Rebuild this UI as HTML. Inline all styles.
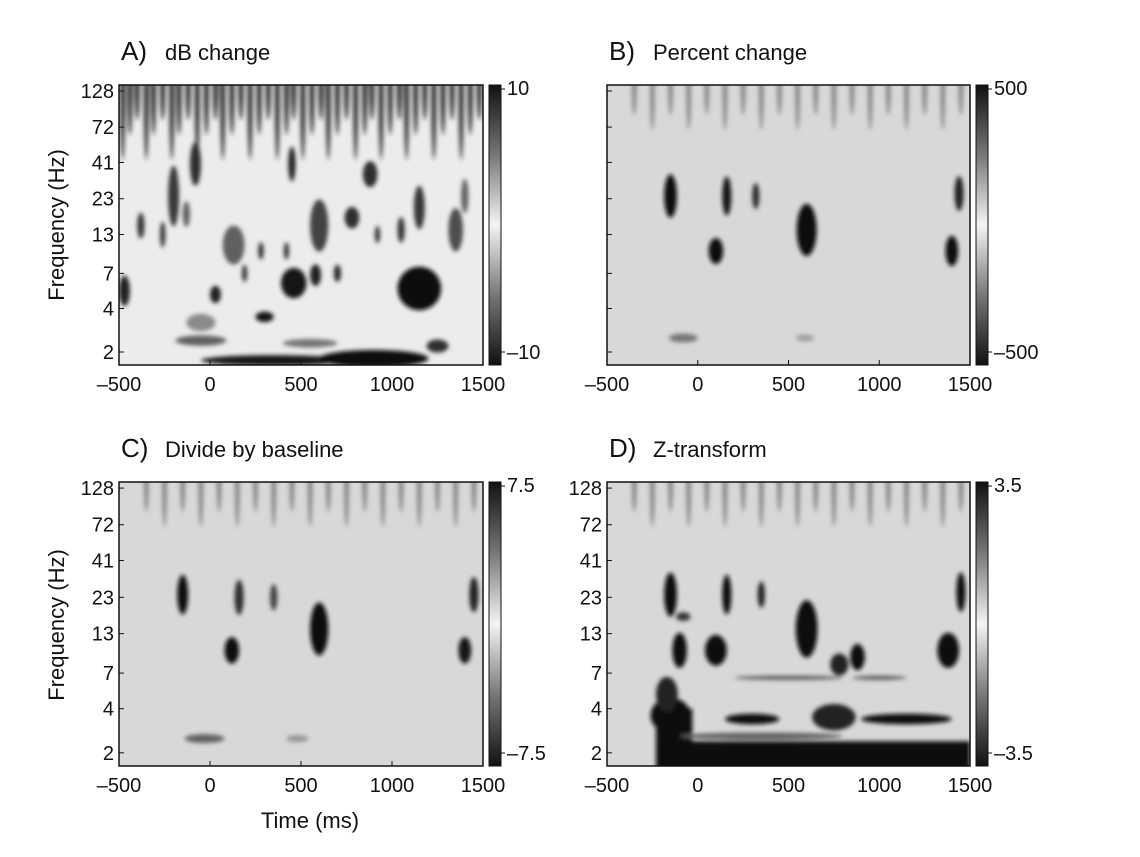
<!DOCTYPE html>
<html><head><meta charset="utf-8"><style>
body{margin:0;background:#fff;}
svg text{font-family:"Liberation Sans",sans-serif;fill:#111;}
</style></head><body>
<svg id="fig" width="1140" height="852" viewBox="0 0 1140 852" xmlns="http://www.w3.org/2000/svg">
<defs>
<filter id="blur" x="-20%" y="-20%" width="140%" height="140%"><feGaussianBlur stdDeviation="2"/></filter>
<linearGradient id="cbar" x1="0" y1="0" x2="0" y2="1">
<stop offset="0" stop-color="#111"/><stop offset="0.25" stop-color="#777"/><stop offset="0.5" stop-color="#f4f4f4"/><stop offset="0.75" stop-color="#777"/><stop offset="1" stop-color="#111"/>
</linearGradient>
</defs>
</svg>
<script>
// data: blobs [time ms, freq Hz, half-width ms, half-height octaves, darkness 0..1]
const xTicks=[-500,0,500,1000,1500];
const yTicks=[2,4,7,13,23,41,72,128];
const blobsA=[[-470,5.3,30,0.35,0.9],[30,5,30,0.2,0.9],[460,6,70,0.35,0.95],[580,6.8,30,0.25,0.9],[1150,5.5,120,0.5,1],[1250,2.2,60,0.15,0.85],[300,3.5,50,0.12,0.95],[350,1.75,400,0.12,0.95],[900,1.8,300,0.2,1],[-50,2.4,140,0.12,0.6],[-50,3.2,80,0.2,0.4],[550,2.3,150,0.1,0.5],[130,11,60,0.45,0.6],[600,15,50,0.6,0.75],[780,17,40,0.25,0.85],[1350,14,40,0.5,0.7],[1400,24,20,0.4,0.6],[-200,24,30,0.7,0.8],[-380,15,20,0.3,0.8],[-80,40,30,0.5,0.85],[880,34,40,0.3,0.85],[1150,20,30,0.5,0.8],[420,10,15,0.2,0.8],[280,10,15,0.2,0.85],[190,7,15,0.2,0.8],[700,7,20,0.2,0.85],[920,13,15,0.2,0.8],[-260,13,15,0.3,0.8],[-130,18,20,0.3,0.6],[450,40,20,0.4,0.9],[1050,14,20,0.3,0.8]];
const streaksA=[-480,-440,-400,-350,-310,-260,-210,-170,-120,-70,-20,30,70,120,170,220,270,320,370,420,460,510,560,610,650,700,750,800,850,890,940,990,1040,1080,1130,1180,1230,1280,1330,1380,1430,1480];
const blobsB=[[-150,24,35,0.5,1],[100,10,40,0.3,1],[160,24,25,0.45,0.95],[320,24,20,0.3,0.85],[600,14,55,0.6,1],[1440,25,25,0.4,0.9],[1400,10,35,0.35,1],[-80,2.5,80,0.1,0.5],[590,2.5,50,0.08,0.3]];
const blobsC=[[-150,24,30,0.45,1],[120,10,40,0.3,1],[160,23,25,0.4,0.85],[350,23,20,0.3,0.75],[600,14,50,0.6,1],[1450,24,25,0.4,0.9],[1400,10,35,0.3,0.95],[-30,2.5,110,0.1,0.6],[480,2.5,60,0.08,0.35]];
const blobsD=[[-150,24,35,0.5,1],[-100,10,40,0.4,1],[-80,17,40,0.1,0.8],[100,10,60,0.35,1],[160,24,25,0.45,1],[350,24,20,0.3,0.9],[600,14,60,0.65,1],[780,8,50,0.25,0.9],[880,9,40,0.3,1],[1450,25,25,0.45,1],[1380,10,60,0.4,1],[500,6.5,300,0.05,0.6],[1000,6.5,150,0.05,0.6],[300,3.4,150,0.12,1],[1150,3.4,250,0.12,1],[750,3.5,120,0.3,0.9],[-150,3.6,110,0.4,1],[-170,5,60,0.4,0.9],[350,2.6,450,0.08,0.6]];
// bands [t0 ms, t1 ms, f0 Hz, f1 Hz, darkness]
const bandsD=[[-230,1500,1.5,2.4,1],[-230,-30,1.5,4.0,1]];
const streaksD=[-350,-250,-150,-50,50,150,250,350,450,550,650,750,850,950,1050,1150,1250,1350,1450];

const svg=document.getElementById('fig');
const NS='http://www.w3.org/2000/svg';
function mk(tag,attrs,parent){const e=document.createElementNS(NS,tag);for(const k in attrs)e.setAttribute(k,attrs[k]);(parent||svg).appendChild(e);return e;}
function gray(v,base){const g=Math.round(base-(base-15)*v);return `rgb(${g},${g},${g})`;}

const panels=[
 {id:'a',x0:119,x1:483,y0:85,y1:365,title:'A)',sub:'dB change',cb:['10','–10'],bg:'#ececec',blobs:blobsA,bands:[],streaks:streaksA,ylab:true},
 {id:'b',x0:607,x1:970,y0:85,y1:365,title:'B)',sub:'Percent change',cb:['500','–500'],bg:'#d8d8d8',blobs:blobsB,bands:[],streaks:streaksD,ylab:false},
 {id:'c',x0:119,x1:483,y0:482,y1:766,title:'C)',sub:'Divide by baseline',cb:['7.5','–7.5'],bg:'#d8d8d8',blobs:blobsC,bands:[],streaks:streaksD,ylab:true},
 {id:'d',x0:607,x1:970,y0:482,y1:766,title:'D)',sub:'Z-transform',cb:['3.5','–3.5'],bg:'#d8d8d8',blobs:blobsD,bands:bandsD,streaks:streaksD,ylab:true}
];
panels.forEach(p=>{
  const h=p.y1-p.y0, oct=(h*43.5/280);
  const y2=p.y1-13*h/280;
  const xs=t=>p.x0+(t+500)/2000*(p.x1-p.x0);
  const ys=f=>y2-oct*Math.log2(f/2);
  const g=mk('g',{});
  const cp=mk('clipPath',{id:'clip'+p.id},g);mk('rect',{x:p.x0,y:p.y0,width:p.x1-p.x0,height:h},cp);
  const bg=mk('rect',{x:p.x0,y:p.y0,width:p.x1-p.x0,height:h,fill:p.bg},g);
  
  const m=mk('g',{'clip-path':`url(#clip${p.id})`},g);
  const mm=mk('g',{filter:'url(#blur)'},m);
  p.streaks.forEach((t,i)=>{
    const isA=p.id==='a';
    const r=mk('ellipse',{cx:xs(t),cy:p.y0,rx:isA?2.8:2.5,ry:isA?(i%3===0?75:(i%3===1?50:35)):(i%2?45:30),fill:isA?'#222':'#555',opacity:isA?0.85:0.6},mm);
    
  });
  p.bands.forEach(b=>{
    const r=mk('rect',{x:xs(b[0]),y:ys(b[3]),width:xs(b[1])-xs(b[0]),height:ys(b[2])-ys(b[3]),fill:gray(b[4],220)},mm);
    
  });
  p.blobs.forEach(b=>{
    const cx=xs(b[0]),cy=ys(b[1]);
    const rx=b[2]/2000*(p.x1-p.x0),ry=b[3]*oct;
    const e=mk('ellipse',{cx:cx,cy:cy,rx:rx,ry:ry,fill:gray(b[4],220)},mm);
    
  });
  const fr=mk('rect',{x:p.x0,y:p.y0,width:p.x1-p.x0,height:h,fill:'none',stroke:'#111','stroke-width':1.5},g);
  
  xTicks.forEach(t=>{
    mk('line',{x1:xs(t),x2:xs(t),y1:p.y1,y2:p.y1-5,stroke:'#111'},g);
    const tx=mk('text',{x:xs(t),y:p.y1+26,'text-anchor':'middle','font-size':20},g);tx.textContent=String(t).replace('-','–');
    
  });
  yTicks.forEach(f=>{
    mk('line',{x1:p.x0,x2:p.x0+5,y1:ys(f),y2:ys(f),stroke:'#111'},g);
    if(p.ylab){const tx=mk('text',{x:p.x0-5,y:ys(f)+7,'text-anchor':'end','font-size':20},g);tx.textContent=f;
    }
  });
  const ti=mk('text',{x:p.x0+2,y:p.y0-25,'font-size':26},g);ti.textContent=p.title;
  
  const st=mk('text',{x:p.x0+46,y:p.y0-25,'font-size':22},g);st.textContent=p.sub;
  
  const cb=mk('rect',{x:p.x1+6,y:p.y0,width:12,height:h,fill:'url(#cbar)',stroke:'#111'},g);
  
  const c1=mk('text',{x:p.x1+24,y:p.y0+10,'font-size':20},g);c1.textContent=p.cb[0];
  
  const c2=mk('text',{x:p.x1+24,y:p.y1-6,'font-size':20},g);c2.textContent=p.cb[1];
  
  mk('line',{x1:p.x1+18,x2:p.x1+22,y1:p.y0+4,y2:p.y0+4,stroke:'#111'},g);
  mk('line',{x1:p.x1+18,x2:p.x1+22,y1:p.y1-13,y2:p.y1-13,stroke:'#111'},g);
});
[[225],[625]].forEach(([cy])=>{
  const t=mk('text',{x:64,y:cy,'font-size':22,'text-anchor':'middle',transform:`rotate(-90 64 ${cy})`});t.textContent='Frequency (Hz)';
  
});
const xt=mk('text',{x:310,y:828,'font-size':22,'text-anchor':'middle'});xt.textContent='Time (ms)';

</script>
</body></html>
